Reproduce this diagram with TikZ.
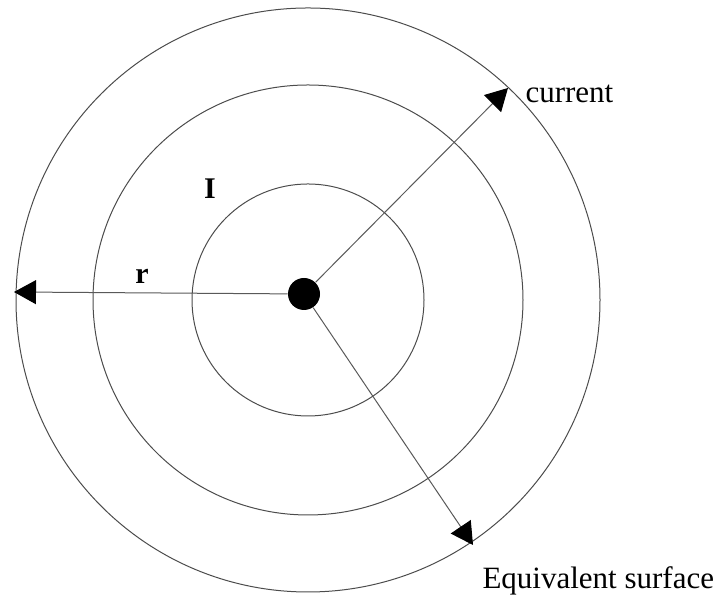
\documentclass[tikz,border=0pt]{standalone}
\usepackage{fontspec}
\setmainfont{Liberation Serif}
\usetikzlibrary{arrows.meta}

\begin{document}
\begin{tikzpicture}[x=0.5pt, y=0.5pt, line width=0.5pt,
  ring/.style={draw=black!70},
  radius line/.style={draw=black!65, -{Triangle[length=11pt, width=12pt, black]}}]
  \useasboundingbox (0,0) rectangle (723,597);
  % rings round the wire, wire slightly off their centre
  \coordinate (C) at (308,297);
  \foreach \rr in {116,215,292}
    \draw[ring] (C) circle[radius=\rr];
  \node[circle, fill=black, inner sep=0pt, minimum size=16pt] (O) at (304,303) {};
  % radii out to the outer ring
  \coordinate (L) at (14,305);
  \coordinate (U) at (508,509);
  \coordinate (D) at (473,52);
  \draw[radius line] (O) -- (L);
  \draw[radius line] (O) -- (U);
  \draw[radius line] (O) -- (D);
  \node[font=\fontsize{15}{17}\selectfont\bfseries] (I) at (210,408) {I};
  \node[font=\fontsize{15}{17}\selectfont\bfseries] (r) at (142,321) {r};
  \node[font=\fontsize{15.5}{18}\selectfont, anchor=base west, inner sep=0pt] (cur) at (525,494) {current};
  \node[font=\fontsize{15.5}{18}\selectfont, anchor=base west, inner sep=0pt] (eq) at (482,8) {Equivalent surface};
\end{tikzpicture}
\end{document}
